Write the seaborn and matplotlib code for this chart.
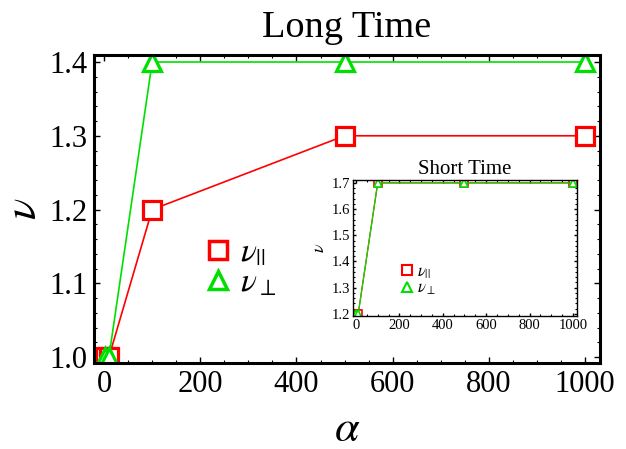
import matplotlib
matplotlib.use("Agg")
import matplotlib.pyplot as plt
import seaborn as sns
import pandas as pd
from matplotlib.ticker import MultipleLocator
from matplotlib.lines import Line2D

alpha = [1, 10, 100, 500, 1000]
long_par = [1.0, 1.0, 1.2, 1.3, 1.3]
long_perp = [1.0, 1.0, 1.4, 1.4, 1.4]
short_par = [1.2, 1.2, 1.7, 1.7, 1.7]
short_perp = [1.2, 1.2, 1.7, 1.7, 1.7]
lab_par = r"$\nu_{||}$"
lab_perp = r"$\nu_{\perp}$"

sns.set_theme(style="white")
plt.rcParams['font.family'] = ['Liberation Serif', 'DejaVu Serif']
plt.rcParams['mathtext.fontset'] = 'stix'
plt.rcParams['text.color'] = 'black'
plt.rcParams['axes.labelcolor'] = 'black'
plt.rcParams['xtick.color'] = 'black'
plt.rcParams['ytick.color'] = 'black'

RED = "#ff0000"
GREEN = "#00e000"

fig = plt.figure(figsize=(6.26, 4.49), dpi=100)
W, H = 626, 449
ax = fig.add_axes([94 / W, 1 - 363 / H, (600 - 94) / W, (363 - 55) / H])

dl = pd.DataFrame({"alpha": alpha, "par": long_par, "perp": long_perp})
sns.lineplot(data=dl, x="alpha", y="par", ax=ax, color=RED, lw=1.2, marker="s",
             markersize=13, markerfacecolor="white", markeredgecolor=RED,
             markeredgewidth=2.3, legend=False)
sns.lineplot(data=dl, x="alpha", y="perp", ax=ax, color=GREEN, lw=1.2, marker="^",
             markersize=13, markerfacecolor="white", markeredgecolor=GREEN,
             markeredgewidth=2.3, legend=False)

def style_axes(a, lw, fs, major_y, minor_y, minor_x):
    for s in a.spines.values():
        s.set_visible(True)
        s.set_color("black")
        s.set_linewidth(lw)
    a.xaxis.set_major_locator(MultipleLocator(200))
    a.xaxis.set_minor_locator(MultipleLocator(minor_x))
    a.yaxis.set_major_locator(MultipleLocator(major_y))
    a.yaxis.set_minor_locator(MultipleLocator(minor_y))
    a.tick_params(which="both", direction="in", top=True, right=True,
                  bottom=True, left=True, colors="black", labelsize=fs)
    a.tick_params(which="major", length=4, width=1)
    a.tick_params(which="minor", length=2, width=0.8)
    a.set_facecolor("white")

def handles(ms, mew):
    return [Line2D([], [], ls="none", marker="s", ms=ms, mfc="white", mec=RED, mew=mew),
            Line2D([], [], ls="none", marker="^", ms=ms, mfc="white", mec=GREEN, mew=mew)]

ax.set_xlim(-21, 1031)
ax.set_ylim(0.992, 1.4095)
style_axes(ax, 2.2, 22, 0.1, 0.02, 50)
ax.tick_params(which="major", pad=5)
ax.set_yticklabels([f"{v:.1f}" for v in ax.get_yticks()])
ax.set_xlabel(r"$\alpha$", fontsize=32, labelpad=8)
ax.set_ylabel(r"$\nu$", fontsize=32, rotation=90, labelpad=3)
ax.set_title("Long Time", fontsize=27.5, pad=13, color="black")
ax.legend(handles(13, 2.5), [lab_par, lab_perp], loc="upper left",
          bbox_to_anchor=(0.19, 0.45), frameon=False, fontsize=24,
          handlelength=0.9, handletextpad=0.2, labelspacing=0.0, borderaxespad=0)

# inset
ins = fig.add_axes([353 / W, 1 - 316 / H, (577 - 353) / W, (316 - 180) / H])
ds = pd.DataFrame({"alpha": alpha, "par": short_par, "perp": short_perp})
sns.lineplot(data=ds, x="alpha", y="par", ax=ins, color=RED, lw=0.9, marker="s",
             markersize=6, markerfacecolor="white", markeredgecolor=RED,
             markeredgewidth=1.2, legend=False)
sns.lineplot(data=ds, x="alpha", y="perp", ax=ins, color=GREEN, lw=0.9, marker="^",
             markersize=6, markerfacecolor="white", markeredgecolor=GREEN,
             markeredgewidth=1.2, legend=False)
ins.set_xlim(-14, 1019)
ins.set_ylim(1.192, 1.711)
style_axes(ins, 1.0, 10.5, 0.1, 0.02, 50)
ins.tick_params(which="major", length=2.5, pad=2)
ins.tick_params(which="minor", length=1.2)
ins.set_yticklabels([f"{v:.1f}" for v in ins.get_yticks()])
ins.set_xlabel("")
ins.set_ylabel(r"$\nu$", fontsize=13, labelpad=3)
ins.set_title("Short Time", fontsize=15, pad=4, color="black")
ins.legend(handles(7, 1.5), [lab_par, lab_perp], loc="upper left",
           bbox_to_anchor=(0.18, 0.43), frameon=False, fontsize=12,
           handlelength=0.8, handletextpad=0.2, labelspacing=0.0, borderaxespad=0)

fig.savefig("out.png", dpi=100, facecolor="white")
